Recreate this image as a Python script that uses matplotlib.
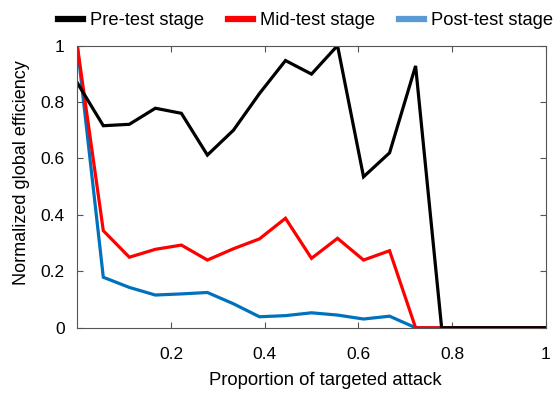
import numpy as np
import matplotlib
matplotlib.use("Agg")
import matplotlib.pyplot as plt
from matplotlib.lines import Line2D

plt.rcParams["font.family"] = ["Liberation Sans", "DejaVu Sans"]

# attack proportions, steps of 1/18
attack = np.arange(19) / 18

pre_test = [0.868, 0.716, 0.721, 0.778, 0.760, 0.612, 0.700, 0.830, 0.947, 0.899,
            1.0, 0.535, 0.620, 0.928, 0.0, 0.0, 0.0, 0.0, 0.0]
mid_test = [1.0, 0.344, 0.250, 0.278, 0.293, 0.240, 0.280, 0.315, 0.388, 0.246,
            0.317, 0.240, 0.273, 0.0, 0.0, 0.0, 0.0, 0.0, 0.0]
post_test = [1.0, 0.179, 0.143, 0.116, 0.120, 0.125, 0.085, 0.039, 0.043, 0.053,
             0.045, 0.031, 0.041, 0.0, 0.0, 0.0, 0.0, 0.0, 0.0]

series_names = ["Pre-test stage", "Mid-test stage", "Post-test stage"]
line_colors = ["#000000", "#ff0000", "#0072bd"]
legend_colors = ["#000000", "#ff0000", "#5b9bd5"]

x_ticks = [0.2, 0.4, 0.6, 0.8, 1.0]
x_tick_labels = ["0.2", "0.4", "0.6", "0.8", "1"]
y_ticks = [0, 0.2, 0.4, 0.6, 0.8, 1.0]
y_tick_labels = ["0", "0.2", "0.4", "0.6", "0.8", "1"]

fig = plt.figure(figsize=(5.6, 3.93), dpi=100)
ax = fig.add_axes([0.138, 0.166, 0.8365, 0.718])

# post-test first so black stays on top like the reference
for values, color in zip([post_test, mid_test, pre_test], line_colors[::-1]):
    ax.plot(attack, values, color=color, lw=2.3, solid_joinstyle="miter")

ax.set_xlim(0, 1)
ax.set_ylim(0, 1)
ax.set_xticks(x_ticks)
ax.set_xticklabels(x_tick_labels)
ax.set_yticks(y_ticks)
ax.set_yticklabels(y_tick_labels)
ax.tick_params(direction="in", top=True, right=True, length=4, width=0.8,
               color="#555555", labelsize=12.5)
ax.tick_params(axis="x", pad=14)
ax.tick_params(axis="y", pad=9)
for spine in ax.spines.values():
    spine.set_color("#555555")
    spine.set_linewidth(0.8)

ax.set_xlabel("Proportion of targeted attack", fontsize=13.3)
ax.set_ylabel("Normalized global efficiency", fontsize=13)
ax.xaxis.set_label_coords(0.53, -0.158)
ax.yaxis.set_label_coords(-0.10, 0.55)

handles = [Line2D([0], [0], color=c, lw=4.5) for c in legend_colors]
fig.legend(handles, series_names, loc="center", bbox_to_anchor=(0.545, 0.948),
           ncol=3, frameon=False, fontsize=13.2, handlelength=1.4,
           handletextpad=0.35, columnspacing=1.3)

fig.savefig("out.png", dpi=100)
